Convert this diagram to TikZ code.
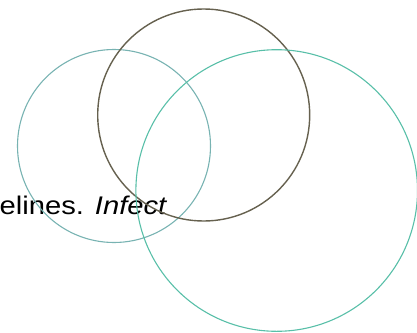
\documentclass[tikz,border=0pt]{standalone}
\usepackage{fontspec}
\setmainfont{Liberation Sans}
\definecolor{lteal}{HTML}{78B3B2}
\definecolor{rteal}{HTML}{58BFA8}
\definecolor{olive}{HTML}{66614F}
\begin{document}
\begin{tikzpicture}[x=1pt,y=-1pt,
  ring/.style={draw,line width=1.1pt}]
\useasboundingbox (0,0) rectangle (417,332);
\node[anchor=base west,inner sep=0pt,font=\fontsize{25.5}{30}\selectfont] (txt) at (-0.5,214) {\scalebox{1.145}[1]{elines. \textit{Infect}}};
\draw[ring,lteal] (114,146) circle[radius=96.5];
\draw[ring,olive,line width=1.4pt] (203.7,115) circle[radius=106];
\draw[ring,rteal] (276.7,190.5) circle[radius=140.8];
\end{tikzpicture}
\end{document}
